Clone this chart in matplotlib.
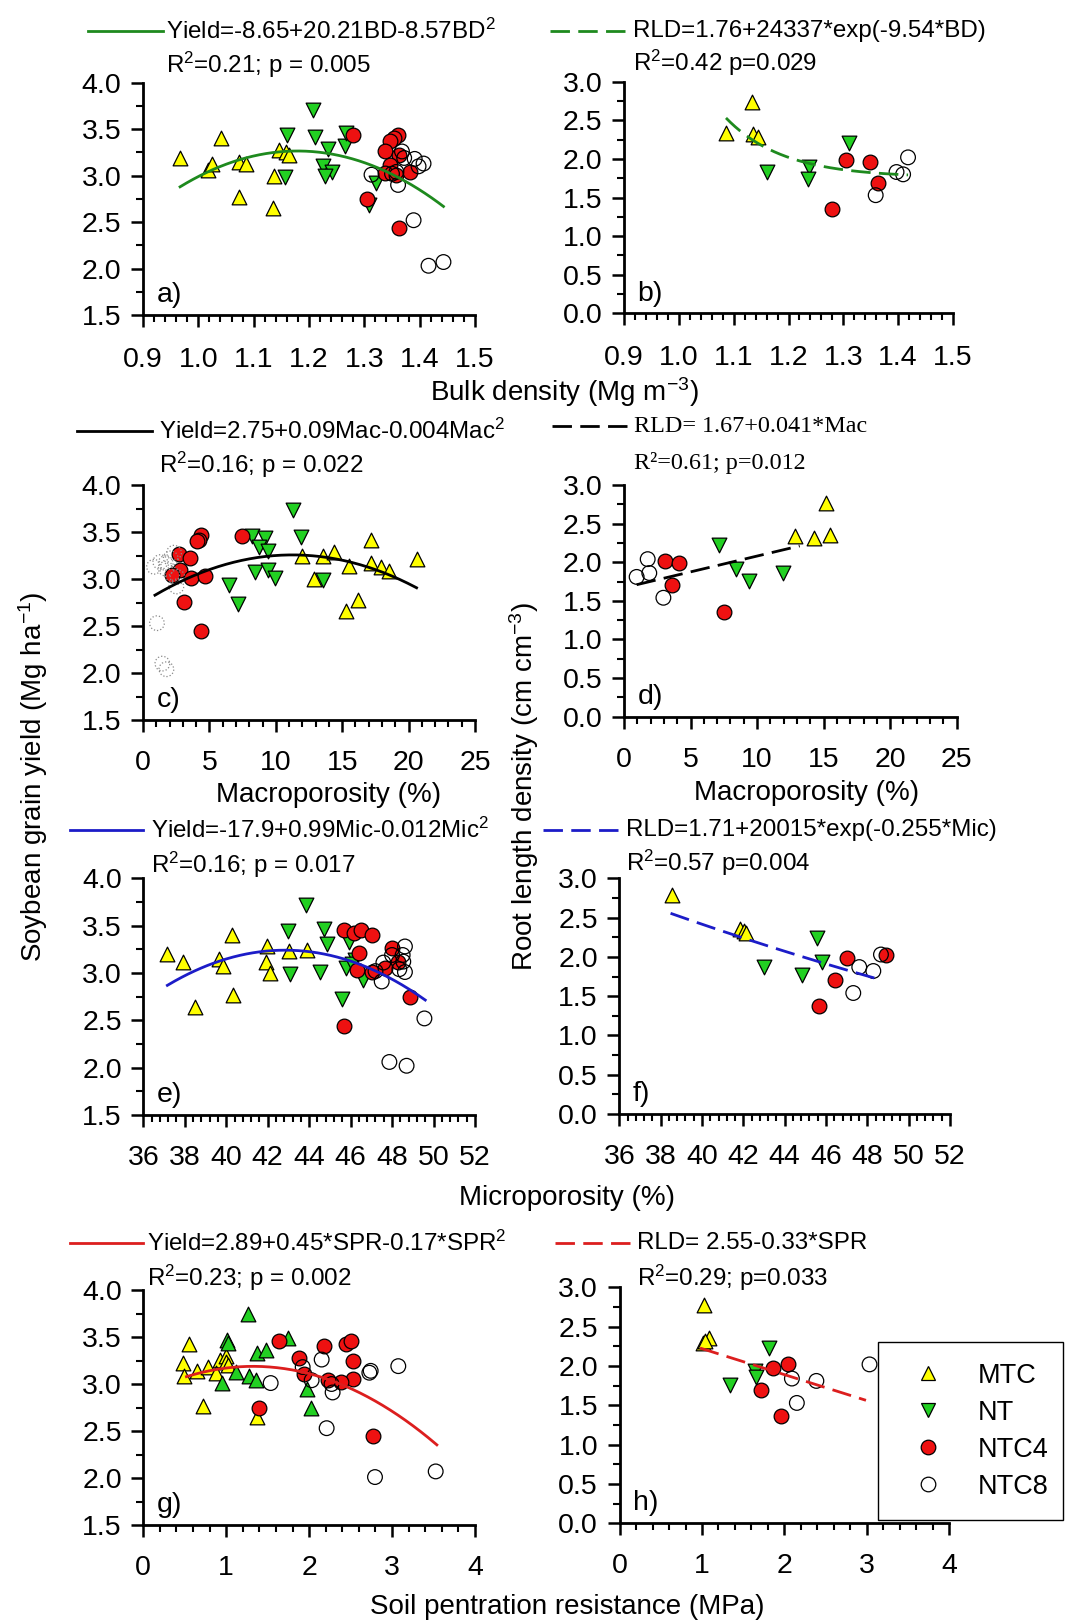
import numpy as np
import matplotlib
matplotlib.use("Agg")
import matplotlib.pyplot as plt
from matplotlib.ticker import MultipleLocator, FormatStrFormatter
from matplotlib.lines import Line2D

plt.rcParams['font.family'] = ['Liberation Sans', 'DejaVu Sans']
plt.rcParams['mathtext.fontset'] = 'custom'
plt.rcParams['mathtext.rm'] = 'Liberation Sans'
plt.rcParams['mathtext.it'] = 'Liberation Sans:italic'
plt.rcParams['mathtext.bf'] = 'Liberation Sans:bold'

# ---------------- data ----------------
treatments = ["MTC", "NT", "NTC4", "NTC8"]

# a) yield vs bulk density
a_mtc_x = [0.967, 1.041, 1.017, 1.024, 1.073, 1.087, 1.073, 1.135, 1.137, 1.145, 1.158, 1.164]
a_mtc_y = [3.19, 3.40, 3.06, 3.13, 3.15, 3.13, 2.77, 2.65, 3.00, 3.28, 3.25, 3.22]
a_nt_x = [1.207, 1.211, 1.160, 1.234, 1.226, 1.241, 1.229, 1.157, 1.265, 1.267, 1.321, 1.309]
a_nt_y = [3.71, 3.42, 3.44, 3.29, 3.10, 3.04, 3.00, 2.98, 3.32, 3.46, 2.92, 2.68]
a_ntc4_x = [1.279, 1.361, 1.353, 1.346, 1.338, 1.363, 1.346, 1.338, 1.358, 1.383, 1.304, 1.363]
a_ntc4_y = [3.44, 3.44, 3.41, 3.37, 3.26, 3.22, 3.11, 3.03, 3.01, 3.04, 2.75, 2.44]
a_ntc8_x = [1.313, 1.361, 1.368, 1.391, 1.407, 1.398, 1.358, 1.389, 1.416, 1.443, 1.372, 1.350]
a_ntc8_y = [3.01, 2.90, 3.26, 3.18, 3.13, 3.10, 3.04, 2.52, 2.03, 2.07, 3.19, 3.02]

# b) root length density vs bulk density
b_mtc_x = [1.086, 1.133, 1.136, 1.145]
b_mtc_y = [2.34, 2.74, 2.32, 2.29]
b_nt_x = [1.160, 1.237, 1.236, 1.310]
b_nt_y = [1.83, 1.90, 1.74, 2.21]
b_ntc4_x = [1.280, 1.304, 1.348, 1.363]
b_ntc4_y = [1.35, 1.99, 1.96, 1.69]
b_ntc8_x = [1.359, 1.397, 1.409, 1.418]
b_ntc8_y = [1.53, 1.83, 1.80, 2.02]

# c) yield vs macroporosity
c_mtc_x = [17.16, 20.60, 12.01, 13.52, 14.40, 15.53, 17.16, 17.91, 18.49, 12.89, 15.28, 16.21]
c_mtc_y = [3.41, 3.21, 3.24, 3.24, 3.29, 3.14, 3.17, 3.13, 3.08, 3.00, 2.66, 2.78]
c_nt_x = [11.26, 11.93, 8.24, 9.20, 8.74, 9.45, 6.48, 7.19, 8.44, 9.45, 9.95, 13.52]
c_nt_y = [3.73, 3.45, 3.46, 3.44, 3.34, 3.30, 2.94, 2.73, 3.07, 3.10, 3.01, 2.99]
c_ntc4_x = [4.35, 4.22, 4.10, 7.49, 2.71, 3.52, 2.76, 2.21, 3.59, 4.67, 3.09, 4.35]
c_ntc4_y = [3.47, 3.42, 3.40, 3.46, 3.27, 3.22, 3.10, 3.04, 3.01, 3.03, 2.76, 2.45]
c_ntc8_x = [0.83, 1.71, 1.71, 2.34, 2.09, 2.51, 1.05, 1.46, 1.76, 2.20, 1.30, 2.60]
c_ntc8_y = [3.13, 3.11, 3.17, 3.28, 3.22, 2.92, 2.53, 2.10, 2.04, 3.05, 3.18, 3.02]

# d) root length density vs macroporosity
d_mtc_x = [12.86, 14.29, 15.19, 15.49]
d_mtc_y = [2.34, 2.31, 2.77, 2.35]
d_nt_x = [7.17, 8.42, 9.42, 11.98]
d_nt_y = [2.22, 1.91, 1.76, 1.86]
d_ntc4_x = [3.08, 4.16, 3.58, 7.54]
d_ntc4_y = [2.02, 1.99, 1.70, 1.36]
d_ntc8_x = [0.95, 1.78, 1.90, 2.96]
d_ntc8_y = [1.81, 2.04, 1.86, 1.54]

# e) yield vs microporosity
e_mtc_x = [37.16, 37.93, 38.49, 39.67, 39.86, 40.29, 40.34, 41.95, 41.92, 42.11, 43.04, 43.88]
e_mtc_y = [3.20, 3.12, 2.64, 3.15, 3.07, 3.40, 2.77, 3.28, 3.12, 3.00, 3.23, 3.24]
e_nt_x = [43.85, 43.00, 43.08, 44.52, 44.73, 44.84, 45.94, 45.78, 45.57, 46.61, 46.21, 46.05]
e_nt_y = [3.72, 3.44, 2.99, 3.01, 3.46, 3.31, 3.33, 3.05, 2.72, 2.93, 3.14, 3.10]
e_ntc4_x = [45.68, 46.16, 46.48, 47.01, 47.98, 46.40, 48.30, 46.29, 47.01, 47.66, 48.86, 45.68]
e_ntc4_y = [3.45, 3.42, 3.45, 3.40, 3.26, 3.21, 3.12, 3.03, 3.01, 3.05, 2.75, 2.44]
e_ntc8_x = [48.62, 48.51, 48.54, 48.62, 47.50, 47.58, 49.56, 47.87, 48.70, 48.35, 48.00, 47.20]
e_ntc8_y = [3.28, 3.19, 3.12, 3.01, 2.91, 3.11, 2.52, 2.06, 2.02, 3.04, 3.19, 3.02]

# f) root length density vs microporosity
f_mtc_x = [38.53, 41.84, 42.03, 42.13]
f_mtc_y = [2.79, 2.36, 2.33, 2.31]
f_nt_x = [45.55, 45.79, 43.00, 44.82]
f_nt_y = [2.24, 1.93, 1.87, 1.77]
f_ntc4_x = [47.00, 46.44, 45.68, 48.90]
f_ntc4_y = [1.99, 1.71, 1.37, 2.03]
f_ntc8_x = [47.61, 48.29, 47.32, 48.66]
f_ntc8_y = [1.87, 1.82, 1.54, 2.03]

# g) yield vs soil penetration resistance
g_mtc_x = [0.555, 0.48, 0.49, 0.65, 0.78, 0.72, 0.92, 1.00, 1.00, 1.37, 0.88, 1.02]
g_mtc_y = [3.43, 3.22, 3.09, 3.14, 3.18, 2.77, 3.26, 3.30, 3.23, 2.65, 3.12, 3.20]
g_nt_x = [1.266, 1.005, 1.025, 1.375, 1.479, 1.749, 1.118, 1.278, 1.359, 0.945, 1.970, 2.018]
g_nt_y = [3.75, 3.47, 3.44, 3.33, 3.36, 3.49, 3.13, 3.09, 3.04, 3.01, 2.95, 2.75]
g_ntc4_x = [1.640, 1.399, 1.881, 1.938, 2.179, 2.444, 2.500, 2.525, 2.533, 2.380, 2.231, 2.766]
g_ntc4_y = [3.46, 2.75, 3.28, 3.11, 3.40, 3.43, 3.46, 3.24, 3.05, 3.02, 3.04, 2.45]
g_ntc8_x = [1.536, 2.151, 1.922, 2.030, 2.283, 2.270, 2.211, 2.726, 2.742, 3.075, 2.794, 3.526]
g_ntc8_y = [3.01, 3.26, 3.18, 3.04, 2.91, 3.00, 2.53, 3.12, 3.14, 3.19, 2.01, 2.07]

# h) root length density vs soil penetration resistance
h_mtc_x = [1.027, 1.018, 1.082, 1.035]
h_mtc_y = [2.78, 2.29, 2.35, 2.32]
h_nt_x = [1.811, 1.336, 1.642, 1.654]
h_nt_y = [2.23, 1.76, 1.93, 1.86]
h_ntc4_x = [1.866, 2.049, 1.718, 1.964]
h_ntc4_y = [1.98, 2.02, 1.69, 1.36]
h_ntc8_x = [2.091, 2.388, 2.151, 3.033]
h_ntc8_y = [1.84, 1.81, 1.53, 2.02]

# regression curves: polynomial coefficients (c0, c1, c2) or exponential (a, b, k)
fit_a = [-8.65, 20.21, -8.57]
fit_b = [1.76, 24337.0, -9.54]
fit_c = [2.75, 0.09, -0.004]
fit_d = [1.67, 0.041]
fit_e = [-17.9, 0.987, -0.01152]
fit_f = [-1.67, 9.85, -0.022]
fit_g = [2.89, 0.45, -0.17]
fit_h = [2.55, -0.33]

dom_a = [0.967, 1.443]
dom_b = [1.086, 1.418]
dom_c = [0.9, 20.6]
dom_d = [0.95, 13.2]
dom_e = [37.16, 49.6]
dom_f = [38.48, 48.69]
dom_g = [0.52, 3.54]
dom_h = [0.976, 2.99]

eq_a = ["Yield=-8.65+20.21BD-8.57BD$^{2}$", "R$^{2}$=0.21; p = 0.005"]
eq_b = ["RLD=1.76+24337*exp(-9.54*BD)", "R$^{2}$=0.42 p=0.029"]
eq_c = ["Yield=2.75+0.09Mac-0.004Mac$^{2}$", "R$^{2}$=0.16; p = 0.022"]
eq_d = ["RLD= 1.67+0.041*Mac", "R\u00b2=0.61; p=0.012"]
eq_e = ["Yield=-17.9+0.99Mic-0.012Mic$^{2}$", "R$^{2}$=0.16; p = 0.017"]
eq_f = ["RLD=1.71+20015*exp(-0.255*Mic)", "R$^{2}$=0.57 p=0.004"]
eq_g = ["Yield=2.89+0.45*SPR-0.17*SPR$^{2}$", "R$^{2}$=0.23; p = 0.002"]
eq_h = ["RLD= 2.55-0.33*SPR", "R$^{2}$=0.29; p=0.033"]

# ---------------- styling ----------------
W, H = 1068, 1623
YEL, GRN, RED = "#FFFF00", "#22D022", "#EE1111"
LGREEN, LBLUE, LRED = "#1E8A1E", "#1C1CC8", "#DC1E1E"
TICK_FS, ANN_FS, LAB_FS = 20.5, 17.4, 20
S_TRI, S_CIR = 112, 112

fig = plt.figure(figsize=(W / 100, H / 100), dpi=100)


def add_axes_px(l, r, t, b):
    return fig.add_axes([l / W, 1 - b / H, (r - l) / W, (b - t) / H])


def style_axes(ax, xlim, xmaj, xmin, xfmt, ylim, letter, xpad=13):
    ax.set_xlim(*xlim)
    ax.set_ylim(*ylim)
    ax.xaxis.set_major_locator(MultipleLocator(xmaj))
    ax.xaxis.set_minor_locator(MultipleLocator(xmin))
    ax.xaxis.set_major_formatter(FormatStrFormatter(xfmt))
    ax.yaxis.set_major_locator(MultipleLocator(0.5))
    ax.yaxis.set_minor_locator(MultipleLocator(0.25))
    ax.yaxis.set_major_formatter(FormatStrFormatter('%.1f'))
    for s in ['top', 'right']:
        ax.spines[s].set_visible(False)
    for s in ['left', 'bottom']:
        ax.spines[s].set_linewidth(2.0)
    ax.tick_params(which='major', direction='out', length=8.5, width=1.8,
                   labelsize=TICK_FS)
    ax.tick_params(which='minor', direction='out', length=5, width=1.5)
    ax.tick_params(axis='x', which='major', pad=xpad)
    ax.tick_params(axis='y', which='major', pad=7)
    ax.text(0.04, 0.055, letter, transform=ax.transAxes, fontsize=TICK_FS,
            ha='left', va='baseline')


def scatter_groups(ax, xs, ys, nt_marker='v', dotted_ntc8=False):
    (mx, my), (nx, ny), (rx, ry), (ox, oy) = zip(xs, ys)
    ax.scatter(mx, my, marker='^', s=S_TRI, c=YEL, edgecolors='k', linewidths=0.9, zorder=3)
    ax.scatter(nx, ny, marker=nt_marker, s=S_TRI, c=GRN, edgecolors='k', linewidths=0.9, zorder=3)
    ax.scatter(rx, ry, marker='o', s=S_CIR, c=RED, edgecolors='k', linewidths=0.9, zorder=3)
    if dotted_ntc8:
        ax.scatter(ox, oy, marker='o', s=S_CIR, facecolors='none', edgecolors='#8a8a8a',
                   linewidths=0.9, linestyles=':', zorder=3)
    else:
        ax.scatter(ox, oy, marker='o', s=S_CIR, facecolors='none', edgecolors='k',
                   linewidths=0.9, zorder=3)


def poly(c, x):
    return sum(ci * x ** i for i, ci in enumerate(c))


def expo(c, x):
    return c[0] + c[1] * np.exp(c[2] * x)


def fit_line(ax, dom, func, coef, color, dashed):
    x = np.linspace(dom[0], dom[1], 200)
    ls = (0, (7, 3)) if dashed else '-'
    ax.plot(x, func(coef, x), color=color, lw=2.0, ls=ls, zorder=4)


def equation(x_line0, x_line1, y_line, x_text, y_r2, texts, color, dashed, serif=False):
    ls = (0, (7, 3)) if dashed else '-'
    fig.add_artist(Line2D([x_line0 / W, x_line1 / W], [1 - y_line / H] * 2,
                          color=color, lw=2.0, ls=ls, transform=fig.transFigure))
    fam = ['Liberation Serif', 'DejaVu Serif'] if serif else ['Liberation Sans', 'DejaVu Sans']
    fig.text(x_text / W, 1 - y_line / H, texts[0], fontsize=ANN_FS, va='center',
             ha='left', family=fam)
    fig.text(x_text / W, 1 - y_r2 / H, texts[1], fontsize=ANN_FS, va='center',
             ha='left', family=fam)


# a
ax = add_axes_px(143, 475, 82.7, 315)
style_axes(ax, (0.9, 1.5), 0.1, 0.02, '%.1f', (1.5, 4.0), 'a)', xpad=14.5)
scatter_groups(ax, [a_mtc_x, a_nt_x, a_ntc4_x, a_ntc8_x], [a_mtc_y, a_nt_y, a_ntc4_y, a_ntc8_y])
fit_line(ax, dom_a, poly, fit_a, LGREEN, False)
equation(88, 163, 31, 166, 65, eq_a, LGREEN, False)

# b
ax = add_axes_px(624, 953, 81.7, 313.3)
style_axes(ax, (0.9, 1.5), 0.1, 0.02, '%.1f', (0.0, 3.0), 'b)', xpad=14.5)
scatter_groups(ax, [b_mtc_x, b_nt_x, b_ntc4_x, b_ntc8_x], [b_mtc_y, b_nt_y, b_ntc4_y, b_ntc8_y])
fit_line(ax, dom_b, expo, fit_b, LGREEN, True)
equation(550, 627, 31, 633, 63, eq_b, LGREEN, True)

# c
ax = add_axes_px(143, 475, 485, 720)
style_axes(ax, (0, 25), 5, 1, '%d', (1.5, 4.0), 'c)')
scatter_groups(ax, [c_mtc_x, c_nt_x, c_ntc4_x, c_ntc8_x], [c_mtc_y, c_nt_y, c_ntc4_y, c_ntc8_y],
               dotted_ntc8=True)
fit_line(ax, dom_c, poly, fit_c, 'black', False)
equation(77, 152, 431, 159, 465, eq_c, 'black', False)

# d
ax = add_axes_px(624, 956.7, 485, 716.7)
style_axes(ax, (0, 25), 5, 1, '%d', (0.0, 3.0), 'd)')
scatter_groups(ax, [d_mtc_x, d_nt_x, d_ntc4_x, d_ntc8_x], [d_mtc_y, d_nt_y, d_ntc4_y, d_ntc8_y])
fit_line(ax, dom_d, poly, fit_d, 'black', True)
equation(552, 627, 426, 634, 463, eq_d, 'black', True, serif=True)

# e
ax = add_axes_px(143.3, 475, 878.3, 1115)
style_axes(ax, (36, 52), 2, 0.4, '%d', (1.5, 4.0), 'e)')
scatter_groups(ax, [e_mtc_x, e_nt_x, e_ntc4_x, e_ntc8_x], [e_mtc_y, e_nt_y, e_ntc4_y, e_ntc8_y])
fit_line(ax, dom_e, poly, fit_e, LBLUE, False)
equation(70, 143, 830, 151, 865, eq_e, LBLUE, False)

# f
ax = add_axes_px(619.3, 950, 878.3, 1114)
style_axes(ax, (36, 52), 2, 0.4, '%d', (0.0, 3.0), 'f)')
scatter_groups(ax, [f_mtc_x, f_nt_x, f_ntc4_x, f_ntc8_x], [f_mtc_y, f_nt_y, f_ntc4_y, f_ntc8_y])
fit_line(ax, dom_f, expo, fit_f, LBLUE, True)
equation(543, 620, 830, 626, 863, eq_f, LBLUE, True)

# g
ax = add_axes_px(143.3, 475, 1290, 1525)
style_axes(ax, (0, 4), 1, 0.2, '%d', (1.5, 4.0), 'g)')
scatter_groups(ax, [g_mtc_x, g_nt_x, g_ntc4_x, g_ntc8_x], [g_mtc_y, g_nt_y, g_ntc4_y, g_ntc8_y],
               nt_marker='^')
fit_line(ax, dom_g, poly, fit_g, LRED, False)
equation(70, 143, 1243, 147, 1278, eq_g, LRED, False)

# h
ax = add_axes_px(619.6, 949.2, 1287.3, 1523.3)
style_axes(ax, (0, 4), 1, 0.2, '%d', (0.0, 3.0), 'h)')
scatter_groups(ax, [h_mtc_x, h_nt_x, h_ntc4_x, h_ntc8_x], [h_mtc_y, h_nt_y, h_ntc4_y, h_ntc8_y])
fit_line(ax, dom_h, poly, fit_h, LRED, True)
equation(555, 632, 1243, 637, 1278, eq_h, LRED, True)

# shared axis titles
fig.text(564 / W, 1 - 392 / H, "Bulk density (Mg m$^{-3}$)", fontsize=LAB_FS, ha='center', va='center')
fig.text(329 / W, 1 - 795 / H, "Macroporosity (%)", fontsize=LAB_FS, ha='center', va='center')
fig.text(807 / W, 1 - 793 / H, "Macroporosity (%)", fontsize=LAB_FS, ha='center', va='center')
fig.text(567 / W, 1 - 1198 / H, "Microporosity (%)", fontsize=LAB_FS, ha='center', va='center')
fig.text(567 / W, 1 - 1607 / H, "Soil pentration resistance (MPa)", fontsize=LAB_FS,
         ha='center', va='center')
fig.text(33 / W, 1 - 777 / H, "Soybean grain yield (Mg ha$^{-1}$)", fontsize=LAB_FS,
         ha='center', va='center', rotation=90)
fig.text(524 / W, 1 - 787 / H, "Root length density (cm cm$^{-3}$)", fontsize=LAB_FS,
         ha='center', va='center', rotation=90)

# legend
handles = [
    Line2D([], [], ls='none', marker='^', ms=10.5, mfc=YEL, mec='k', mew=0.9),
    Line2D([], [], ls='none', marker='v', ms=10.5, mfc=GRN, mec='k', mew=0.9),
    Line2D([], [], ls='none', marker='o', ms=10.5, mfc=RED, mec='k', mew=0.9),
    Line2D([], [], ls='none', marker='o', ms=10.5, mfc='none', mec='k', mew=0.9),
]
leg = fig.legend(handles, treatments, loc='upper left',
                 bbox_to_anchor=(878 / W, 1 - 1342 / H, (1063 - 878) / W, 0.0),
                 mode='expand', fontsize=19.5, frameon=True, fancybox=False,
                 edgecolor='black', framealpha=1.0, borderpad=0.76, labelspacing=0.41,
                 handlelength=2.17, handletextpad=0.76, borderaxespad=0.0)
leg.get_frame().set_linewidth(1.0)

fig.savefig("out.png", dpi=100)
